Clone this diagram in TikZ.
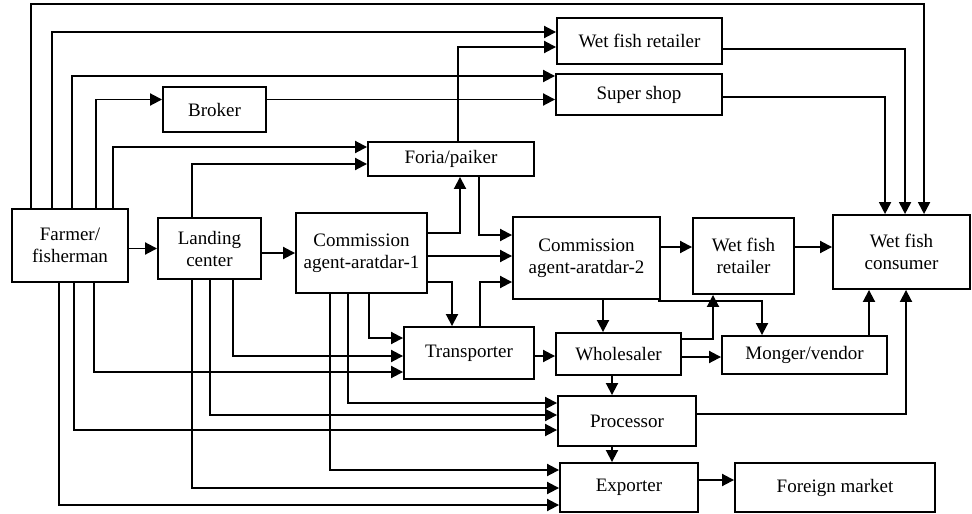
\documentclass[tikz,border=0pt]{standalone}
\usepackage{fontspec}
\setmainfont{Liberation Serif}
\usepackage{tikz}
\usetikzlibrary{arrows.meta,calc}
\tikzstyle{arrow} = [line width=1.9pt,-{Triangle[length=12pt,width=12pt]}]
\tikzstyle{actor} = [rectangle, draw, line width=1.9pt, inner sep=0pt, align=center, font=\fontsize{19}{22}\selectfont]

\begin{document}
\begin{tikzpicture}[x=1pt, y=-1pt]
    \useasboundingbox (0,0) rectangle (972,514);

    % Left nodes
    \node[actor, minimum width=116pt, minimum height=73pt] (farmer) at (70,245.5) {Farmer/\\fisherman};
    \node[actor, minimum width=103pt, minimum height=61pt] (landing) at (209.5,248.5) {Landing\\center};
    \node[actor, minimum width=131pt, minimum height=80pt] (ca1) at (361.5,253) {Commission\\agent-aratdar-1};
    \node[actor, minimum width=103pt, minimum height=45pt] (broker) at (214.5,109.5) {Broker};

    % Top nodes
    \node[actor, minimum width=166pt, minimum height=34pt] (foria) at (451,159) {Foria/paiker};
    \node[actor, minimum width=165pt, minimum height=46pt] (retail1) at (639.5,41) {Wet fish retailer};
    \node[actor, minimum width=166pt, minimum height=41pt] (supershop) at (639,94.5) {Super shop};

    % Middle nodes
    \node[actor, minimum width=147pt, minimum height=82pt] (ca2) at (586.5,258) {Commission\\agent-aratdar-2};
    \node[actor, minimum width=101pt, minimum height=76pt] (retail2) at (743.5,256) {Wet fish\\retailer};
    \node[actor, minimum width=137pt, minimum height=74pt] (consumer) at (901.5,252) {Wet fish\\consumer};

    % Bottom nodes
    \node[actor, minimum width=130pt, minimum height=52pt] (transporter) at (469,353) {Transporter};
    \node[actor, minimum width=125pt, minimum height=42pt] (wholesaler) at (618.5,354) {Wholesaler};
    \node[actor, minimum width=165pt, minimum height=38pt] (monger) at (804.5,355) {Monger/vendor};
    \node[actor, minimum width=138pt, minimum height=50pt] (processor) at (627,421) {Processor};
    \node[actor, minimum width=138pt, minimum height=49pt] (exporter) at (629,487.5) {Exporter};
    \node[actor, minimum width=200pt, minimum height=49pt] (foreign) at (835,487.5) {Foreign market};

    % Upper routes
    \draw[arrow] ([xshift=20pt]farmer.north west) -- ++(0,-204) -| ([xshift=92pt]consumer.north west);
    \draw[arrow] ([xshift=41pt]farmer.north west) |- ([yshift=9pt]retail1.west);
    \draw[arrow] ([xshift=61pt]farmer.north west) |- ([yshift=18.5pt]supershop.west);
    \draw[arrow] ([xshift=85pt]farmer.north west) |- ([yshift=10pt]broker.west);
    \draw[arrow] ([xshift=102pt]farmer.north west) |- ([yshift=12pt]foria.west);
    \draw[arrow] ([xshift=-17.5pt]landing.north) |- ([yshift=-5pt]foria.west);
    \draw[arrow] ([yshift=10pt]broker.east) -- ([yshift=10pt]broker.east -| supershop.west);
    \draw[arrow] ([xshift=7pt]foria.north) |- ([yshift=-6pt]retail1.west);
    \draw[arrow] ([yshift=-8pt]retail1.east) -| ([xshift=73pt]consumer.north west);
    \draw[arrow] ([yshift=-2.5pt]supershop.east) -| ([xshift=53pt]consumer.north west);

    % Main chain
    \draw[arrow] (farmer.east |- landing) -- (landing.west);
    \draw[arrow] (landing.east |- ca1) -- (ca1.west);
    \draw[arrow] ([yshift=20pt]ca1.east) -| ([xshift=9pt]foria.south);
    \draw[arrow] ([xshift=28pt]foria.south) |- ([yshift=23pt]ca2.west);
    \draw[arrow] ([yshift=-3pt]ca1.east) -- ([yshift=-3pt]ca1.east -| ca2.west);
    \draw[arrow] ([yshift=-29pt]ca1.east) -| ([xshift=-17pt]transporter.north);
    \draw[arrow] ([xshift=11pt]transporter.north) |- ([yshift=-24pt]ca2.west);
    \draw[arrow] ([yshift=11pt]ca2.east) -- ([yshift=11pt]ca2.east -| retail2.west);
    \draw[arrow] ([yshift=9pt]retail2.east) -- ([yshift=9pt]retail2.east -| consumer.west);
    \draw[arrow] ([xshift=16.5pt]ca2.south) -- ([xshift=16.5pt]ca2.south |- wholesaler.north);
    \draw[arrow] ([xshift=-3pt,yshift=-1pt]ca2.south east) -| ([xshift=-42.5pt]monger.north);
    \draw[arrow] ([yshift=15pt]wholesaler.east) -| ([xshift=-30.5pt]retail2.south);
    \draw[arrow] ([yshift=-3pt]wholesaler.east) -- ([yshift=-3pt]wholesaler.east -| monger.west);
    \draw[arrow] ([yshift=-3pt]transporter.east) -- ([yshift=-3pt]transporter.east -| wholesaler.west);
    \draw[arrow] ([xshift=-6.5pt]wholesaler.south) -- ([xshift=-6.5pt]wholesaler.south |- processor.north);
    \draw[arrow] ([xshift=-15pt]processor.south) -- ([xshift=-15pt]processor.south |- exporter.north);
    \draw[arrow] ([yshift=7pt]processor.east) -| ([xshift=4.5pt]consumer.south);
    \draw[arrow] ([xshift=64.5pt]monger.north) -- ([xshift=64.5pt]monger.north |- consumer.south);
    \draw[arrow] ([yshift=7.5pt]exporter.east) -- ([yshift=7.5pt]exporter.east -| foreign.west);

    % Lower routes
    \draw[arrow] ([xshift=24pt]farmer.south) |- ([yshift=-19pt]transporter.west);
    \draw[arrow] ([xshift=4pt]farmer.south) |- ([yshift=-9pt]processor.west);
    \draw[arrow] ([xshift=-11pt]farmer.south) |- ([yshift=-17.5pt]exporter.west);
    \draw[arrow] ([xshift=23.5pt]landing.south) |- ([yshift=-3pt]transporter.west);
    \draw[arrow] ([xshift=0.5pt]landing.south) |- ([yshift=6pt]processor.west);
    \draw[arrow] ([xshift=-17.5pt]landing.south) |- ([yshift=-0.5pt]exporter.west);
    \draw[arrow] ([xshift=7.5pt]ca1.south) |- ([yshift=15pt]transporter.west);
    \draw[arrow] ([xshift=-13.5pt]ca1.south) |- ([yshift=18pt]processor.west);
    \draw[arrow] ([xshift=-31.5pt]ca1.south) |- ([yshift=17.5pt]exporter.west);
\end{tikzpicture}
\end{document}
